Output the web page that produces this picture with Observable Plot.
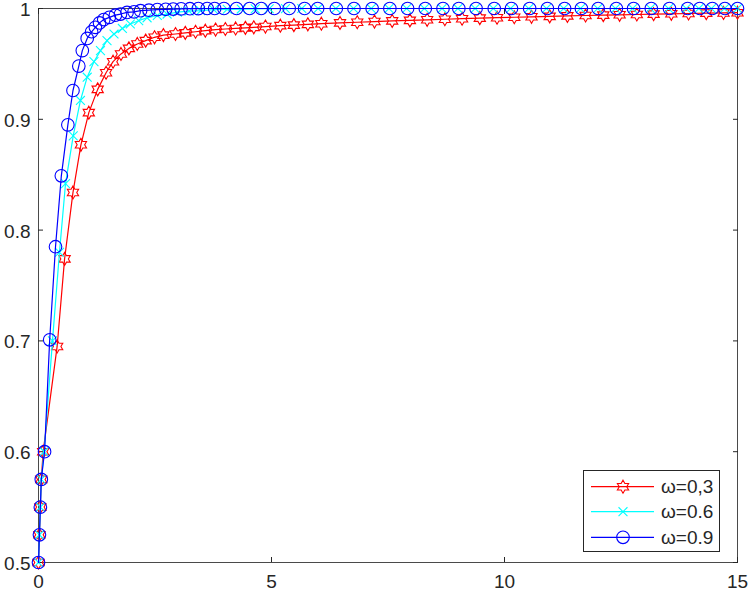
<!DOCTYPE html>
<html><head><meta charset="utf-8">
<script src="https://cdn.jsdelivr.net/npm/d3@7"></script>
<script src="https://cdn.jsdelivr.net/npm/@observablehq/plot@0.6"></script>
<style>
body{margin:0;background:#fff;}
#wrap{position:relative;width:750px;height:593px;}
#legend{position:absolute;left:583px;top:470px;}
</style></head><body><div id="wrap"></div>
<script>
// ---- data ----
const seriesNames = ["ω=0,3", "ω=0.6", "ω=0.9"];
const xTicks = [0, 5, 10, 15];
const xTickLabels = ["0", "5", "10", "15"];
const yTicks = [0.5, 0.6, 0.7, 0.8, 0.9, 1];
const yTickLabels = ["0.5", "0.6", "0.7", "0.8", "0.9", "1"];

const xRed = [0, 0.02, 0.04, 0.06, 0.1, 0.40, 0.56, 0.74, 0.91, 1.08, 1.27, 1.45, 1.60, 1.77, 1.94, 2.12, 2.30, 2.49, 2.68, 2.94, 3.15, 3.37, 3.58, 3.80, 4.01, 4.23, 4.44, 4.62, 4.87, 5.19, 5.48, 5.78, 6.07, 6.47, 6.84, 7.21, 7.59, 7.97, 8.34, 8.72, 9.09, 9.47, 9.84, 10.21, 10.58, 10.97, 11.35, 11.74, 12.12, 12.47, 12.84, 13.2, 13.58, 13.95, 14.33, 14.7, 15];
const yRed = [0.5, 0.525, 0.55, 0.575, 0.6, 0.695, 0.774, 0.834, 0.877, 0.906, 0.927, 0.942, 0.952, 0.959, 0.964, 0.968, 0.971, 0.974, 0.976, 0.977, 0.978, 0.979, 0.980, 0.981, 0.9815, 0.982, 0.9825, 0.983, 0.9837, 0.9845, 0.985, 0.9857, 0.9863, 0.987, 0.9876, 0.9882, 0.9888, 0.9893, 0.9898, 0.9903, 0.9908, 0.9913, 0.9917, 0.9921, 0.9925, 0.9929, 0.9933, 0.9937, 0.994, 0.9943, 0.9946, 0.9949, 0.9952, 0.9955, 0.9958, 0.996, 0.9962];

const xCyan = [0, 0.02, 0.04, 0.06, 0.12, 0.3, 0.45, 0.58, 0.745, 0.90, 1.045, 1.19, 1.33, 1.47, 1.62, 1.80, 1.97, 2.15, 2.33, 2.55, 2.76, 2.98, 3.23, 3.48, 3.76, 4.05, 4.35, 4.65, 4.95, 5.3, 5.65, 6.0, 6.38, 6.76, 7.14, 7.52, 7.9, 8.28, 8.66, 9.0, 9.37, 9.76, 10.13, 10.52, 10.9, 11.27, 11.63, 12.0, 12.38, 12.75, 13.13, 13.52, 13.9, 14.17, 14.44, 14.72, 15];
const yCyan = [0.5, 0.525, 0.55, 0.575, 0.6, 0.70, 0.78, 0.842, 0.885, 0.917, 0.938, 0.952, 0.962, 0.971, 0.977, 0.982, 0.986, 0.989, 0.9916, 0.9937, 0.995, 0.9967, 0.9976, 0.998, 0.999, 0.9993, 0.9995, 0.9997, 0.9998, 0.9999, 1, 1, 1, 1, 1, 1, 1, 1, 1, 1, 1, 1, 1, 1, 1, 1, 1, 1, 1, 1, 1, 1, 1, 1, 1, 1, 1];

const xBlue = [0, 0.02, 0.04, 0.06, 0.13, 0.24, 0.365, 0.49, 0.63, 0.74, 0.865, 0.94, 1.045, 1.14, 1.22, 1.31, 1.40, 1.52, 1.65, 1.76, 1.90, 2.05, 2.19, 2.37, 2.55, 2.73, 2.89, 3.06, 3.25, 3.43, 3.62, 3.78, 3.98, 4.25, 4.53, 4.78, 5.06, 5.38, 5.71, 5.99, 6.39, 6.77, 7.16, 7.54, 7.92, 8.30, 8.68, 9.02, 9.39, 9.78, 10.15, 10.54, 10.92, 11.29, 11.65, 12.01, 12.40, 12.77, 13.15, 13.54, 13.93, 14.19, 14.46, 14.73, 15];
const yBlue = [0.5, 0.525, 0.55, 0.575, 0.6, 0.701, 0.785, 0.849, 0.895, 0.926, 0.948, 0.962, 0.973, 0.979, 0.983, 0.987, 0.990, 0.992, 0.994, 0.995, 0.9965, 0.997, 0.998, 0.9985, 0.999, 0.9993, 0.9995, 0.9997, 0.9998, 0.9999, 1, 1, 1, 1, 1, 1, 1, 1, 1, 1, 1, 1, 1, 1, 1, 1, 1, 1, 1, 1, 1, 1, 1, 1, 1, 1, 1, 1, 1, 1, 1, 1, 1, 1, 1];

const colors = ["#ff0000", "#00ffff", "#0000ff"];

// ---- custom MATLAB-like marker symbols ----
const hexagram = {
  draw(ctx, size) {
    const R = Math.sqrt(size / Math.PI), r = R / Math.sqrt(3);
    for (let i = 0; i < 12; i++) {
      const a = -Math.PI / 2 + i * Math.PI / 6, rr = i % 2 ? r : R;
      const px = rr * Math.cos(a), py = rr * Math.sin(a);
      i ? ctx.lineTo(px, py) : ctx.moveTo(px, py);
    }
    ctx.closePath();
  }
};
const times = {
  draw(ctx, size) {
    const a = Math.sqrt(size / Math.PI) * 0.7071;
    ctx.moveTo(-a, -a); ctx.lineTo(a, a);
    ctx.moveTo(-a, a); ctx.lineTo(a, -a);
  }
};
const symbols = [hexagram, times, "circle"];
const radii = [6.5, 6.3, 6.3];

const toRows = (xs, ys) => xs.map((x, i) => ({x, y: ys[i]}));
const series = [toRows(xRed, yRed), toRows(xCyan, yCyan), toRows(xBlue, yBlue)];

const axisColor = "#262626";
const font = "'Liberation Sans', Arial, sans-serif";
const marks = [
  Plot.frame({stroke: "#4a4a4a", strokeWidth: 1}),
  // inward ticks on four sides
  Plot.axisX(xTicks, {anchor: "bottom", tickSize: 5, dy: -5, tickFormat: () => "", label: null, stroke: axisColor}),
  Plot.axisX(xTicks, {anchor: "top", tickSize: 5, dy: 5, tickFormat: () => "", label: null, stroke: axisColor}),
  Plot.axisY(yTicks, {anchor: "left", tickSize: 5, dx: 5, tickFormat: () => "", label: null, stroke: axisColor}),
  Plot.axisY(yTicks, {anchor: "right", tickSize: 5, dx: -5, tickFormat: () => "", label: null, stroke: axisColor}),
  // tick labels
  Plot.axisX(xTicks, {anchor: "bottom", tickSize: 0, tickPadding: 12, tickFormat: (d, i) => xTickLabels[i], label: null, fill: axisColor}),
  Plot.axisY(yTicks, {anchor: "left", tickSize: 0, tickPadding: 8, dy: 1.5, tickFormat: (d, i) => yTickLabels[i], label: null, fill: axisColor})
];
series.forEach((rows, k) => {
  marks.push(Plot.line(rows, {x: "x", y: "y", stroke: colors[k], strokeWidth: 1.2}));
  marks.push(Plot.dot(rows, {x: "x", y: "y", stroke: colors[k], fill: "none", symbol: symbols[k], r: radii[k], strokeWidth: 1.1}));
});

const chart = Plot.plot({
  width: 750, height: 593,
  marginLeft: 38, marginRight: 13, marginTop: 8, marginBottom: 31,
  x: {domain: [0, 15]},
  y: {domain: [0.5, 1]},
  style: {fontFamily: font, fontSize: "19px", color: axisColor, background: "#fff", overflow: "visible"},
  marks
});
const wrap = document.getElementById("wrap");
wrap.appendChild(chart);

// ---- legend ----
const lw = 137, lh = 82;
const leg = d3.select(wrap).append("svg").attr("id", "legend").attr("width", lw).attr("height", lh);
leg.append("rect").attr("x", 0.5).attr("y", 0.5).attr("width", lw - 1).attr("height", lh - 1)
  .attr("fill", "#fff").attr("stroke", axisColor).attr("stroke-width", 1);
const rowY = [16.7, 41.7, 67.3];
seriesNames.forEach((name, k) => {
  const g = leg.append("g").attr("transform", `translate(0,${rowY[k]})`);
  g.append("line").attr("x1", 8).attr("x2", 71).attr("y1", 0).attr("y2", 0).attr("stroke", colors[k]).attr("stroke-width", 1.2);
  const sym = typeof symbols[k] === "string" ? d3.symbolCircle : symbols[k];
  g.append("path").attr("transform", "translate(40,0)")
    .attr("d", d3.symbol(sym, Math.PI * radii[k] * radii[k])())
    .attr("fill", "none").attr("stroke", colors[k]).attr("stroke-width", 1.1);
  g.append("text").attr("x", 78).attr("y", 0).attr("dy", "0.35em")
    .attr("font-family", font).attr("font-size", 19)
    .attr("fill", axisColor).text(name);
});
</script></body></html>
